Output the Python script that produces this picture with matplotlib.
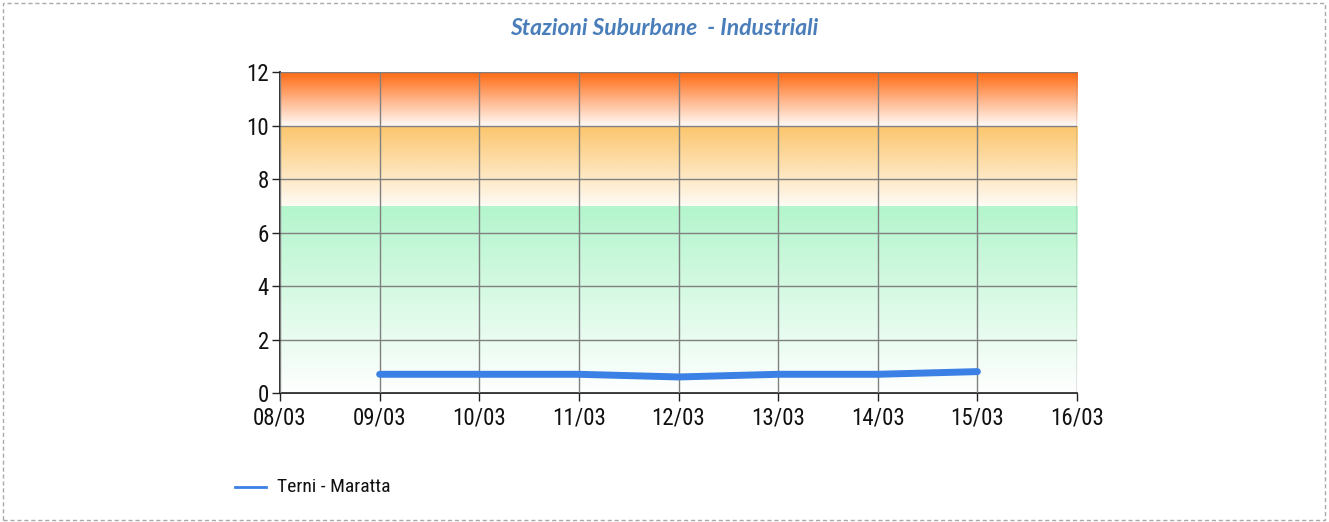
import numpy as np
import matplotlib
matplotlib.use("Agg")
import matplotlib.pyplot as plt
from matplotlib.colors import to_rgb
from matplotlib.patches import Rectangle
from matplotlib import font_manager

# ---- data ----
tick_labels = ["08/03", "09/03", "10/03", "11/03", "12/03", "13/03", "14/03", "15/03", "16/03"]
tick_days = [8, 9, 10, 11, 12, 13, 14, 15, 16]
series_days = [9, 10, 11, 12, 13, 14, 15]
series_values = [0.7, 0.7, 0.7, 0.6, 0.7, 0.7, 0.8]
series_name = "Terni - Maratta"
title = "Stazioni Suburbane  - Industriali"
y_ticks = [0, 2, 4, 6, 8, 10, 12]
# bands: (low, high, top colour, bottom colour)
bands = [(0, 7, "#b3f5cc", "#ffffff"),
         (7, 10, "#fcc56a", "#fffbf5"),
         (10, 12, "#ff6a12", "#fffaf7")]

names = {f.name for f in font_manager.fontManager.ttflist}
tick_font = "Roboto"
for cand in ["Liberation Sans Narrow", "Roboto Condensed", "Roboto"]:
    if cand in names:
        tick_font = cand
        break
title_font = "Lato" if "Lato" in names else "DejaVu Sans"

fig = plt.figure(figsize=(13.29, 5.22), dpi=100)
ax = fig.add_axes([0.2107, 0.2471, 0.5997, 0.6149])

x0, x1 = 8, 16
for lo, hi, top, bot in bands:
    t = np.array(to_rgb(top)); b = np.array(to_rgb(bot))
    n = 200
    f = np.linspace(0, 1, n)[:, None]
    img = (t[None, :] * (1 - f) + b[None, :] * f)[:, None, :]
    ax.imshow(img, extent=[x0, x1, lo, hi], aspect="auto", origin="upper",
              interpolation="bilinear", zorder=0)

ax.set_xlim(x0, x1)
ax.set_ylim(0, 12)
ax.set_xticks(tick_days)
ax.set_xticklabels(tick_labels)
ax.set_yticks(y_ticks)
ax.grid(True, color="#808080", linewidth=1.0, zorder=1)
ax.set_axisbelow(False)

ax.plot(series_days, series_values, color="#3b80e4", linewidth=5,
        solid_capstyle="round", zorder=3, label=series_name)

for s in ["top", "right"]:
    ax.spines[s].set_visible(False)
for s in ["left", "bottom"]:
    ax.spines[s].set_color("#222222")
    ax.spines[s].set_linewidth(1.3)
ax.tick_params(axis="both", direction="out", length=6, width=1, color="#222222",
               labelsize=16.5, labelcolor="#111111")
for lab in ax.get_xticklabels() + ax.get_yticklabels():
    lab.set_family(tick_font)
ax.tick_params(axis="x", pad=4)
ax.tick_params(axis="y", pad=2)

# title
fig.text(0.5, 0.945, title, ha="center", va="center", color="#4a7ebb",
         fontsize=16.5, fontstyle="italic", fontweight="bold", family=title_font)

# legend
fig.lines.append(plt.Line2D([235 / 1329, 266 / 1329], [1 - 487 / 522] * 2,
                            transform=fig.transFigure, color="#3b80e4", linewidth=2.0))
fig.text(277 / 1329, 1 - 487 / 522, series_name, ha="left", va="center",
         fontsize=14, family=tick_font, color="#111111")

# dashed border
fig.patches.append(Rectangle((0.002, 0.003), 0.995, 0.992, transform=fig.transFigure,
                             fill=False, edgecolor="#aaaaaa", linestyle=(0, (3, 2)),
                             linewidth=1.0))

fig.savefig("out.png", dpi=100)
